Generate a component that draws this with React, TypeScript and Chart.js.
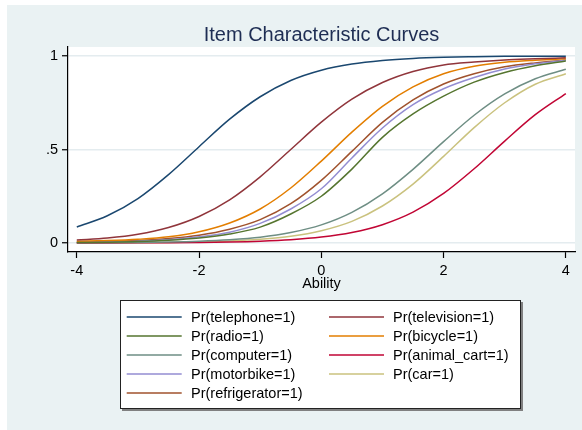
import React, { useEffect, useRef } from 'react';
import { Chart, registerables } from 'chart.js';

Chart.register(...registerables);

const chartTitle = 'Item Characteristic Curves';
const xAxisTitle = 'Ability';

const ability = [-4, -3.5, -3, -2.5, -2, -1.5, -1, -0.5, 0, 0.5, 1, 1.5, 2, 2.5, 3, 3.5, 4];

const telephone = [0.086, 0.146, 0.238, 0.366, 0.515, 0.662, 0.782, 0.869, 0.924, 0.957, 0.976, 0.987, 0.993, 0.996, 0.998, 0.999, 0.999];
const television = [0.016, 0.027, 0.047, 0.083, 0.142, 0.231, 0.354, 0.5, 0.646, 0.769, 0.858, 0.917, 0.952, 0.968, 0.979, 0.985, 0.99];
const radio = [0.0025, 0.0045, 0.008, 0.015, 0.027, 0.048, 0.085, 0.155, 0.25, 0.395, 0.565, 0.69, 0.785, 0.86, 0.912, 0.948, 0.973];
const bicycle = [0.009, 0.013, 0.02, 0.033, 0.06, 0.107, 0.182, 0.294, 0.438, 0.593, 0.731, 0.835, 0.905, 0.945, 0.966, 0.977, 0.985];
const computer = [0.0009, 0.0016, 0.0029, 0.0053, 0.0097, 0.0175, 0.031, 0.056, 0.097, 0.164, 0.263, 0.394, 0.542, 0.683, 0.797, 0.878, 0.929];
const animalCart = [0.0003, 0.0005, 0.0009, 0.0016, 0.003, 0.0054, 0.0098, 0.0176, 0.0317, 0.0563, 0.098, 0.165, 0.265, 0.397, 0.545, 0.686, 0.799];
const motorbike = [0.003, 0.0055, 0.01, 0.018, 0.033, 0.058, 0.105, 0.182, 0.29, 0.455, 0.615, 0.74, 0.825, 0.885, 0.93, 0.958, 0.977];
const car = [0.0005, 0.0009, 0.0017, 0.0031, 0.0058, 0.0107, 0.0198, 0.036, 0.066, 0.116, 0.198, 0.315, 0.463, 0.617, 0.75, 0.849, 0.905];
const refrigerator = [0.0045, 0.008, 0.014, 0.024, 0.042, 0.074, 0.125, 0.21, 0.335, 0.49, 0.645, 0.765, 0.85, 0.905, 0.942, 0.963, 0.978];

const seriesLabels = [
  'Pr(telephone=1)', 'Pr(television=1)', 'Pr(radio=1)', 'Pr(bicycle=1)', 'Pr(computer=1)',
  'Pr(animal_cart=1)', 'Pr(motorbike=1)', 'Pr(car=1)', 'Pr(refrigerator=1)',
];
const seriesValues = [telephone, television, radio, bicycle, computer, animalCart, motorbike, car, refrigerator];
const seriesColors = ['#1A476F', '#90353B', '#55752F', '#E37E00', '#6E8E84', '#C10534', '#938DD2', '#CAC27E', '#A0522D'];

const yTickValues = [0, 0.5, 1];
const yTickLabels = ['0', '.5', '1'];
const xTickValues = [-4, -2, 0, 2, 4];

const FONT = '"Liberation Sans", Arial, sans-serif';
const BG = '#EAF2F3';

const stataPlugin = {
  id: 'stataLook',
  beforeDraw(chart: any) {
    const { ctx, chartArea: a } = chart;
    ctx.save();
    ctx.fillStyle = '#ffffff';
    ctx.fillRect(0, 0, chart.width, chart.height);
    ctx.fillStyle = BG;
    ctx.fillRect(7, 5, chart.width - 7, chart.height - 5);
    ctx.fillStyle = '#ffffff';
    ctx.fillRect(a.left, a.top, a.right - a.left, a.bottom - a.top);
    ctx.fillStyle = '#1E2D53';
    ctx.font = '20px ' + FONT;
    ctx.textAlign = 'center';
    ctx.textBaseline = 'alphabetic';
    ctx.fillText(chartTitle, (a.left + a.right) / 2, 41);
    ctx.restore();
  },
  afterDraw(chart: any) {
    const { ctx } = chart;
    ctx.save();
    const bx = 120, by = 300, bw = 401, bh = 109;
    ctx.fillStyle = '#808080';
    ctx.fillRect(bx + 2, by + 2, bw, bh);
    ctx.fillStyle = '#ffffff';
    ctx.fillRect(bx, by, bw, bh);
    ctx.strokeStyle = '#222';
    ctx.lineWidth = 1;
    ctx.strokeRect(bx + 0.5, by + 0.5, bw - 1, bh - 1);
    const colLine = [[126.7, 181.7], [329, 384]];
    const colText = [191, 393];
    const rowY = [317, 336, 355, 374, 393];
    ctx.font = '14.5px ' + FONT;
    ctx.textAlign = 'left';
    ctx.textBaseline = 'middle';
    seriesLabels.forEach((label, i) => {
      const col = i % 2;
      const row = Math.floor(i / 2);
      const y = rowY[row];
      ctx.strokeStyle = seriesColors[i];
      ctx.lineWidth = 1.5;
      ctx.beginPath();
      ctx.moveTo(colLine[col][0], y);
      ctx.lineTo(colLine[col][1], y);
      ctx.stroke();
      ctx.fillStyle = '#000';
      ctx.fillText(label, colText[col], y + 1);
    });
    ctx.restore();
  },
};

export default function App() {
  const ref = useRef<HTMLCanvasElement>(null);
  useEffect(() => {
    const canvas = ref.current;
    if (!canvas) return;
    const chart = new Chart(canvas, {
      type: 'line',
      data: {
        datasets: seriesValues.map((vals, i) => ({
          label: seriesLabels[i],
          data: ability.map((t, j) => ({ x: t, y: vals[j] })),
          borderColor: seriesColors[i],
          backgroundColor: seriesColors[i],
          borderWidth: 1.5,
          pointRadius: 0,
          fill: false,
          cubicInterpolationMode: 'monotone' as const,
        })),
      },
      options: {
        responsive: false,
        devicePixelRatio: 1,
        animation: false,
        layout: { padding: { left: 8, right: 7, top: 47, bottom: 137 } },
        plugins: {
          legend: { display: false },
          tooltip: { enabled: false },
          title: { display: false },
        },
        scales: {
          x: {
            type: 'linear',
            min: -4.144,
            max: 4.15,
            afterFit: (s: any) => { s.height = 41; },
            afterBuildTicks: (s: any) => { s.ticks = xTickValues.map((v) => ({ value: v })); },
            ticks: {
              color: '#000',
              font: { family: FONT, size: 14.5 },
              padding: 4,
              maxRotation: 0,
              autoSkip: false,
              callback: (v: any) => String(v),
            },
            grid: { drawOnChartArea: false, tickLength: 6, tickColor: '#000', tickWidth: 1.2 },
            border: { color: '#000', width: 1.2 },
            title: { display: true, text: xAxisTitle, color: '#000', font: { family: FONT, size: 14.5 }, padding: 0 },
          },
          y: {
            type: 'linear',
            min: -0.048,
            max: 1.048,
            afterFit: (s: any) => { s.width = 60; },
            afterBuildTicks: (s: any) => { s.ticks = yTickValues.map((v) => ({ value: v })); },
            ticks: {
              color: '#000',
              font: { family: FONT, size: 14.5 },
              padding: 4,
              callback: (v: any) => {
                const k = yTickValues.indexOf(Number(v));
                return k >= 0 ? yTickLabels[k] : '';
              },
            },
            grid: { color: '#E4ECEF', lineWidth: 1.5, tickLength: 6, tickColor: '#000', tickWidth: 1.2 },
            border: { color: '#000', width: 1.2 },
          },
        },
      },
      plugins: [stataPlugin],
    });
    return () => chart.destroy();
  }, []);
  return (
    <div style={{ position: 'absolute', left: 0, top: 0, width: 582, height: 430 }}>
      <canvas ref={ref} width={582} height={430} style={{ display: 'block', width: 582, height: 430 }} />
    </div>
  );
}
